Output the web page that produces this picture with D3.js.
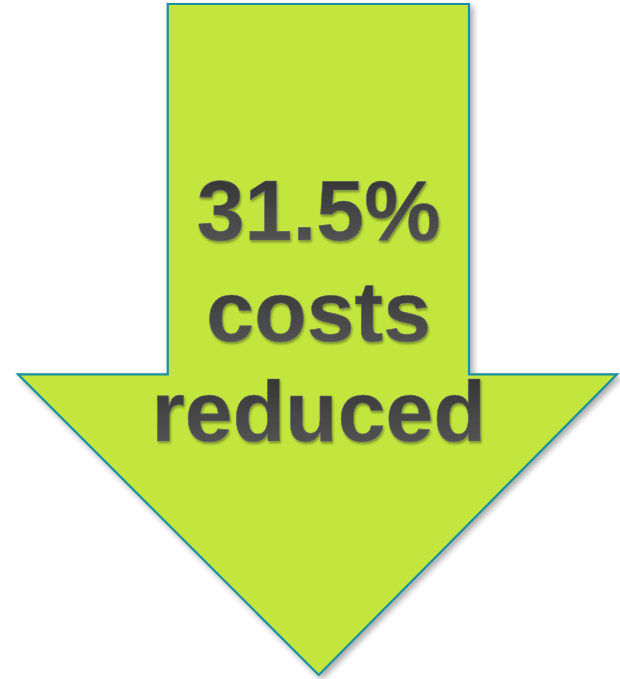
<!DOCTYPE html>
<html>
<head>
<meta charset="utf-8">
<script src="https://cdn.jsdelivr.net/npm/d3@7"></script>
<style>
html,body{margin:0;padding:0;background:#fff;}
svg{display:block;}
</style>
</head>
<body>
<script>
// Data
const reductionValue = [31.5];
const labelLines = ["31.5%", "costs", "reduced"];
const labelUnits = ["%"];

const W = 620, H = 679;
const svg = d3.select("body").append("svg").attr("width", W).attr("height", H);
const defs = svg.append("defs");

// drop shadow for arrow
const sh = defs.append("filter").attr("id","ash").attr("x","-10%").attr("y","-10%").attr("width","130%").attr("height","130%");
sh.append("feGaussianBlur").attr("in","SourceAlpha").attr("stdDeviation",3);
sh.append("feOffset").attr("dx",3).attr("dy",3).attr("result","b");
sh.append("feComponentTransfer").append("feFuncA").attr("type","linear").attr("slope",0.35);
const m = sh.append("feMerge"); m.append("feMergeNode"); m.append("feMergeNode").attr("in","SourceGraphic");

// text gradient
const tg = defs.append("linearGradient").attr("id","tg").attr("x1",0).attr("y1",0).attr("x2",0).attr("y2",1);
tg.append("stop").attr("offset","0%").attr("stop-color","#2f2f2f");
tg.append("stop").attr("offset","100%").attr("stop-color","#5a5a5a");

const ts = defs.append("filter").attr("id","tsh").attr("x","-5%").attr("y","-10%").attr("width","110%").attr("height","130%");
ts.append("feGaussianBlur").attr("in","SourceAlpha").attr("stdDeviation",1.2);
ts.append("feOffset").attr("dx",1).attr("dy",1.5).attr("result","b");
ts.append("feComponentTransfer").append("feFuncA").attr("type","linear").attr("slope",0.35);
const m2 = ts.append("feMerge"); m2.append("feMergeNode"); m2.append("feMergeNode").attr("in","SourceGraphic");

// geometry scales (unit arrow → pixels)
const x = d3.scaleLinear().domain([0, 1]).range([18, 617]);
const y = d3.scaleLinear().domain([0, 1]).range([4, 675]);
const shaftL = 0.25, shaftR = 0.753, shoulder = 0.552;
const pts = [
  [shaftL, 0], [shaftR, 0], [shaftR, shoulder], [1, shoulder],
  [0.502, 1], [0, shoulder], [shaftL, shoulder]
];
svg.append("path")
  .attr("d", d3.line().x(d => x(d[0])).y(d => y(d[1])).curve(d3.curveLinearClosed)(pts))
  .attr("fill", "#c2e63c")
  .attr("stroke", "#1a8f9e")
  .attr("stroke-width", 2.2)
  .attr("stroke-linejoin", "miter")
  .attr("filter", "url(#ash)");

const cx = x(0.502);
const baselines = [240, 341, 441];
svg.selectAll("text.lbl").data(labelLines).join("text")
  .attr("class","lbl")
  .attr("x", cx)
  .attr("y", (d,i) => baselines[i])
  .attr("text-anchor","middle")
  .attr("font-family","'Liberation Sans', Arial, sans-serif")
  .attr("font-weight","bold")
  .attr("font-size", 86)
  .attr("fill","url(#tg)")
  .attr("stroke","#6a6a6a")
  .attr("stroke-width",0.6)
  .attr("filter","url(#tsh)")
  .text(d => d);
</script>
</body>
</html>
